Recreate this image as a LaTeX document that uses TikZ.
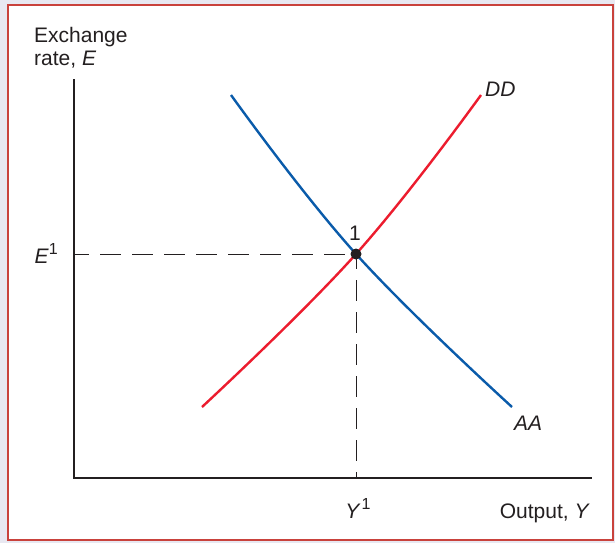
\documentclass[tikz,border=0pt]{standalone}
\usepackage{fontspec}
\setmainfont{Liberation Sans}
\definecolor{outbg}{HTML}{E8E8F1}
\definecolor{frame}{HTML}{C9423C}
\definecolor{ddred}{HTML}{EC1C2E}
\definecolor{aablue}{HTML}{0A5BAA}
\definecolor{ink}{HTML}{231F20}
\tikzset{
  axis/.style={ink, line width=2.4pt},
  guide/.style={ink, line width=1pt, dash pattern=on 21pt off 11pt},
  curve/.style={line width=2.4pt},
  lbl/.style={inner sep=0pt, text=ink, font=\fontsize{21}{23}\selectfont},
}
\newcommand{\supone}{\raisebox{0.42em}{\fontsize{16}{16}\selectfont 1}}
\begin{document}
\begin{tikzpicture}[x=1pt,y=-1pt]
\useasboundingbox (0,0) rectangle (615,543);
\fill[outbg] (0,0) rectangle (615,543);
\fill[white] (8,5) rectangle (613,540);
\draw[frame, line width=2pt] (8,5) rectangle (613,540);
% axes
\coordinate (o) at (74,478);
\coordinate (ytop) at (74,79);
\coordinate (xend) at (592,478);
\coordinate (p) at (356,254);
\coordinate (pe) at (74,254);
\coordinate (py) at (356,478);
\draw[axis] (ytop) -- (o) -- (xend);
% guides
\draw[guide, dash phase=6pt] (pe) -- (p);
\draw[guide, dash phase=6pt] (p) -- (py);
% curves
\draw[curve, aablue] plot[smooth, tension=0.7] coordinates {(231,95) (356,254) (512,407)};
\draw[curve, ddred] plot[smooth, tension=0.7] coordinates {(202,407) (356,254) (481,95)};
\fill[ink] (p) circle (5.5pt);
% labels
\node[lbl, anchor=base west] (ex) at (34,43) {Exchange};
\node[lbl, anchor=base west] (rate) at (34,66) {rate, \textit{E}};
\node[lbl, anchor=base east] (e1) at (58,263) {\textit{E}\supone};
\node[lbl, anchor=base] (y1) at (358,518) {\textit{Y}\kern1pt\supone};
\node[lbl, anchor=base east] (out) at (590,518) {Output,\ \textit{Y}};
\node[lbl, anchor=base] (one) at (355,240) {1};
\node[lbl, anchor=base west] (dd) at (485,96) {\textit{DD}};
\node[lbl, anchor=base west] (aa) at (514,430) {\textit{AA}};
\end{tikzpicture}
\end{document}
